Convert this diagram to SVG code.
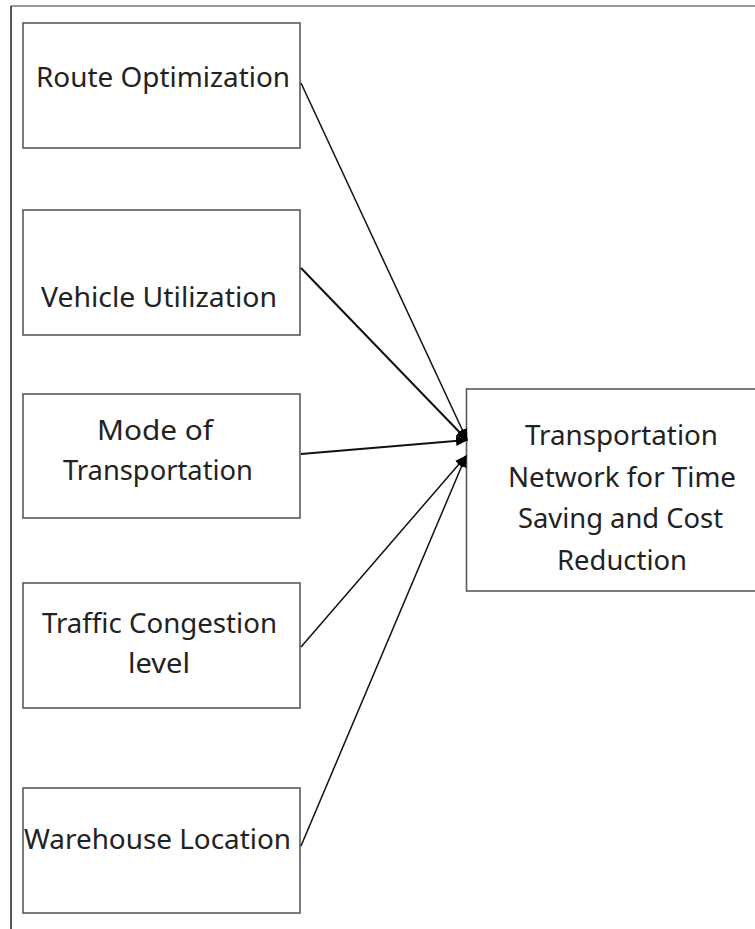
<svg xmlns="http://www.w3.org/2000/svg" width="755" height="929" viewBox="0 0 755 929">
<style>
.box{fill:#fff;stroke:#595959;stroke-width:1.6}
.t{font-family:"Noto Sans","Open Sans","Liberation Sans",sans-serif;font-size:27px;fill:#222}
.c{stroke:#111;stroke-width:1.5;fill:none}
.frame{stroke-width:1.5;fill:none}
</style>
<defs>
<marker id="ah" markerUnits="userSpaceOnUse" markerWidth="12" markerHeight="10" refX="11" refY="5" orient="auto">
<path d="M0,0 L12,5 L0,10 Z" fill="#000"/>
</marker>
</defs>
<path class="frame" stroke="#777" d="M11,6 L755,6"/>
<path class="frame" stroke="#222" d="M11,6 L11,929"/>
<g id="route"><rect class="box" x="23" y="23" width="277" height="125"/><text class="t" x="36" y="87" textLength="254" lengthAdjust="spacingAndGlyphs">Route Optimization</text></g>
<g id="vehicle"><rect class="box" x="23" y="210" width="277" height="125"/><text class="t" x="41" y="307" textLength="236" lengthAdjust="spacingAndGlyphs">Vehicle Utilization</text></g>
<g id="mode"><rect class="box" x="23" y="394" width="277" height="124"/><text class="t" x="97" y="440" textLength="116" lengthAdjust="spacingAndGlyphs">Mode of</text><text class="t" x="63" y="480" textLength="190" lengthAdjust="spacingAndGlyphs">Transportation</text></g>
<g id="traffic"><rect class="box" x="23" y="583" width="277" height="125"/><text class="t" x="42" y="633" textLength="235" lengthAdjust="spacingAndGlyphs">Traffic Congestion</text><text class="t" x="128" y="673" textLength="62" lengthAdjust="spacingAndGlyphs">level</text></g>
<g id="warehouse"><rect class="box" x="23" y="788" width="277" height="125"/><text class="t" x="24" y="849" textLength="267" lengthAdjust="spacingAndGlyphs">Warehouse Location</text></g>
<g id="target"><rect class="box" x="466.5" y="389" width="300" height="202"/>
<text class="t" x="525" y="445" textLength="193" lengthAdjust="spacingAndGlyphs">Transportation</text>
<text class="t" x="508" y="487" textLength="228" lengthAdjust="spacingAndGlyphs">Network for Time</text>
<text class="t" x="518" y="528" textLength="205" lengthAdjust="spacingAndGlyphs">Saving and Cost</text>
<text class="t" x="557" y="570" textLength="130" lengthAdjust="spacingAndGlyphs">Reduction</text></g>
<g id="connectors">
<line class="c" x1="301" y1="83" x2="467" y2="440" marker-end="url(#ah)"/>
<line class="c" x1="301" y1="268" x2="467" y2="440" marker-end="url(#ah)" style="stroke-width:2"/>
<line class="c" x1="301" y1="454" x2="467" y2="440" marker-end="url(#ah)" style="stroke-width:2"/>
<line class="c" x1="301" y1="647" x2="466" y2="456" marker-end="url(#ah)"/>
<line class="c" x1="301" y1="846" x2="466" y2="456" marker-end="url(#ah)"/>
</g>
</svg>
